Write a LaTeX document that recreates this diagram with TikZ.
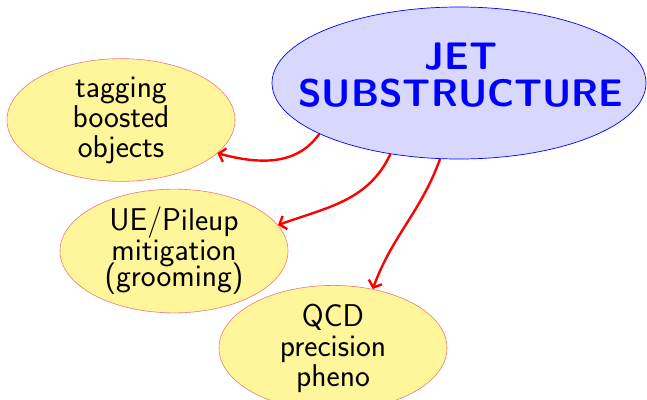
\documentclass[tikz,border=0pt]{standalone}
\usetikzlibrary{shapes.geometric,arrows.meta}
\definecolor{topicfill}{RGB}{255,245,155}
\definecolor{topicdraw}{RGB}{240,120,120}
\definecolor{mainfill}{RGB}{216,216,255}
\begin{document}
\begin{tikzpicture}[x=1pt,y=-1pt,
  mainell/.style={ellipse,draw=blue,fill=mainfill,line width=0.7pt,
    minimum width=374pt,minimum height=152pt,inner sep=0pt},
  maintext/.style={text=blue,align=center,inner sep=0pt,
    font=\fontsize{38.4}{37}\selectfont\sffamily\bfseries},
  topic/.style={ellipse,draw=topicdraw,fill=topicfill,line width=0.6pt,
    minimum width=228pt,minimum height=105pt,inner sep=0pt,align=center,
    font=\fontsize{31.5}{30}\selectfont\sffamily},
  link/.style={red,line width=2.4pt,-{Straight Barb[length=6pt,width=14pt]}}
]
\useasboundingbox (0,0) rectangle (647,399);

% central topic
\node[mainell] (jet) at (459,83) {};
\node[maintext] (jettext) at (461,75) {JET\\SUBSTRUCTURE};

% sub-topics
\node[topic] (tag) at (121,120) {tagging\\boosted\\objects};
\node[topic] (ue) at (174,251) {UE/Pileup\\mitigation\\[-5pt](grooming)};
\node[topic] (qcd) at (333,348) {QCD\\precision\\pheno};

% links from the central topic
\draw[link] (jet.200) to[out=235,in=-15] (tag.-19);
\draw[link] (jet.226) to[out=245,in=20] (ue.14);
\draw[link] (jet.256) to[out=250,in=70] (qcd.56);
\end{tikzpicture}
\end{document}
